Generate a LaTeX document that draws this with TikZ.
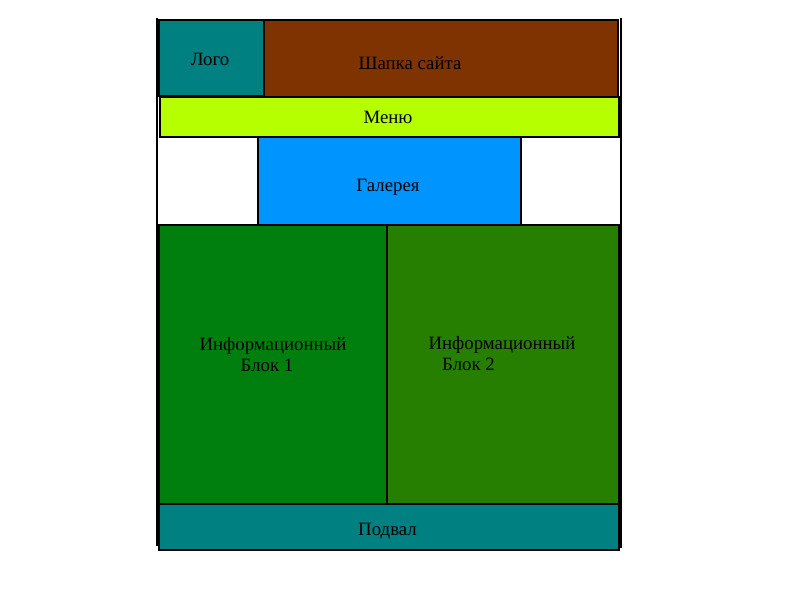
\documentclass[tikz,border=0pt]{standalone}
\usepackage{fontspec}
\setmainfont{Liberation Serif}
\definecolor{tealc}{HTML}{008080}
\definecolor{brownc}{HTML}{7F3300}
\definecolor{limec}{HTML}{B6FF00}
\definecolor{bluec}{HTML}{0094FF}
\definecolor{greenA}{HTML}{007F0E}
\definecolor{greenB}{HTML}{267F00}
\tikzset{
  blk/.style={draw=black, line width=2pt, inner sep=0pt},
  lbl/.style={anchor=base, inner sep=0pt, font=\fontsize{18.8}{22}\selectfont},
  edge/.style={draw=black, line width=2pt}
}
\begin{document}
\begin{tikzpicture}[x=1pt,y=-1pt]
\useasboundingbox (0,0) rectangle (800,600);
\fill[white] (0,0) rectangle (800,600);
% outer lines
\coordinate (lt) at (157,18);
\coordinate (lb) at (157,546);
\coordinate (rt) at (621,18);
\coordinate (rb) at (621,548);
\draw[edge] (lt) -- (lb);
\draw[edge] (rt) -- (rb);
% blocks
\path[blk, fill=tealc] (159,20) rectangle (264,96);
\path[blk, fill=brownc] (264,20) rectangle (618,97);
\path[blk, fill=limec] (160,97) rectangle (619,137);
\path[blk, fill=bluec] (258,137) rectangle (521,225);
\path[blk, fill=greenA] (159,225) rectangle (387,504);
\path[blk, fill=greenB] (387,225) rectangle (619,504);
\path[blk, fill=tealc] (159,504) rectangle (619,550);
% labels
\node[lbl] (logo) at (210,65) {Лого};
\node[lbl] (head) at (410,69) {Шапка сайта};
\node[lbl] (menu) at (388,123) {Меню};
\node[lbl] (gal) at (388,191) {Галерея};
\node[lbl] (i1a) at (273,350) {Информационный};
\node[lbl] (i1b) at (267,371) {Блок 1};
\node[lbl] (i2a) at (502,349) {Информационный};
\node[lbl] (i2b) at (468.5,370) {Блок 2};
\node[lbl] (foot) at (387.5,535) {Подвал};
\end{tikzpicture}
\end{document}
